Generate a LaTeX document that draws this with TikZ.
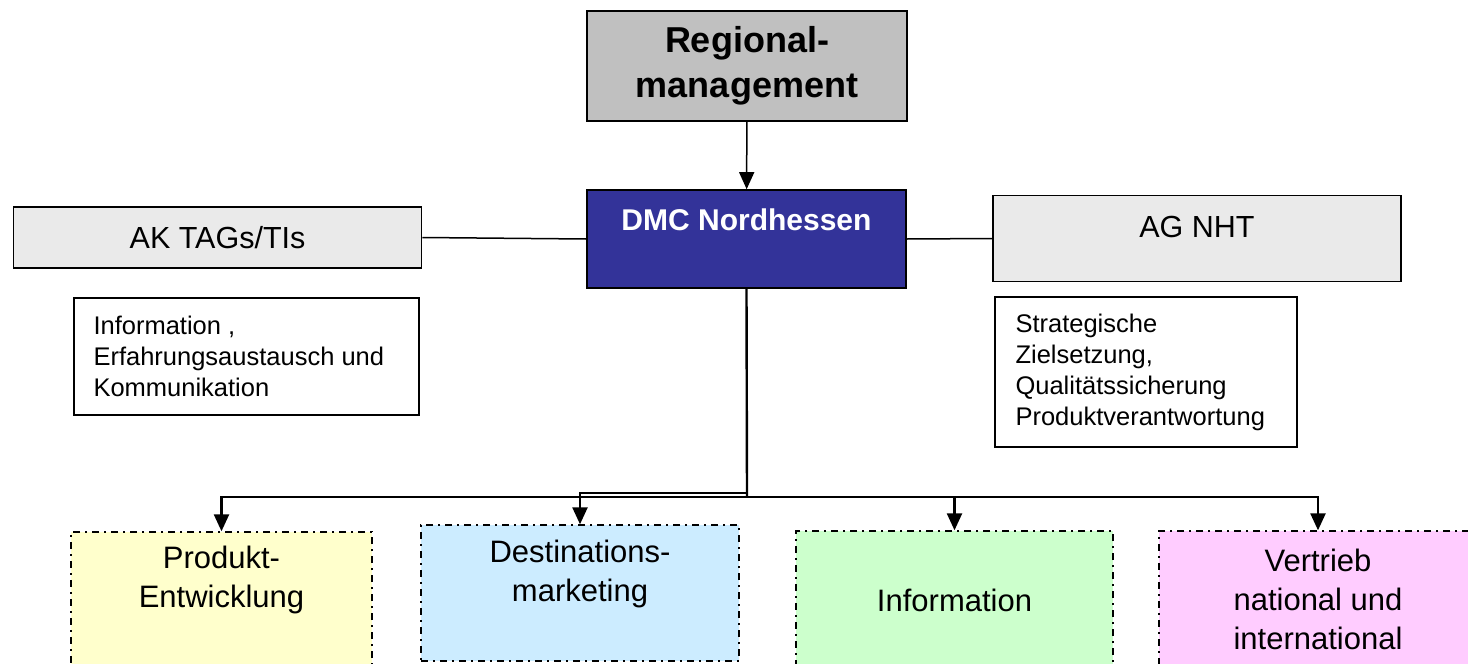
\documentclass[tikz,border=0pt]{standalone}
\usepackage{fontspec}
\setmainfont{Liberation Sans}
\usetikzlibrary{arrows.meta}
\definecolor{rmgray}{HTML}{C0C0C0}
\definecolor{dmcblue}{HTML}{333399}
\definecolor{sidegray}{HTML}{EAEAEA}
\definecolor{prodyellow}{HTML}{FFFFCC}
\definecolor{destblue}{HTML}{CCECFF}
\definecolor{infogreen}{HTML}{CCFFCC}
\definecolor{vertpink}{HTML}{FFCCFF}
\tikzset{
  box/.style={draw, line width=1.6pt, inner sep=0pt},
  unit/.style={draw, line width=1.4pt, inner sep=0pt,
    dash pattern=on 7pt off 5pt on 2pt off 5pt},
  bigtext/.style={font=\fontsize{31}{39}\selectfont, align=center},
  sidetext/.style={font=\fontsize{30.5}{36}\selectfont, align=center},
  smalltext/.style={font=\fontsize{25.5}{31}\selectfont, align=left, anchor=west, inner sep=0pt},
  link/.style={line width=1.5pt},
  tree/.style={line width=2.4pt},
  tip/.style={-{Triangle[width=15pt,length=17pt]}}
}
\begin{document}
\begin{tikzpicture}[x=1pt, y=-1pt]
\useasboundingbox (0,0) rectangle (1468,664);
\clip (0,0) rectangle (1468,664);

% top of the hierarchy
\node[box, fill=rmgray, minimum width=320, minimum height=110,
  font=\fontsize{36}{45}\selectfont\bfseries, align=center] (rm) at (747,66) {Regional-\\management};
\node[box, fill=dmcblue, minimum width=319, minimum height=98] (dmc) at (746.5,239) {};
\node[font=\fontsize{30}{36}\selectfont\bfseries, text=white] (dmctxt) at (746.5,220) {DMC Nordhessen};

% side groups
\node[box, fill=sidegray, minimum width=408, minimum height=61, sidetext] (ak) at (217.5,237.5) {AK TAGs/TIs};
\node[box, fill=sidegray, minimum width=408, minimum height=86] (ag) at (1197,238.5) {};
\node[sidetext] (agtxt) at (1197,227) {AG NHT};

\node[box, line width=1.4pt, fill=white, minimum width=345, minimum height=117] (akinfo) at (246.5,356.5) {};
\node[smalltext] (akinfotxt) at ([xshift=20]akinfo.west) {Information ,\\Erfahrungsaustausch und\\Kommunikation};
\node[box, line width=1.4pt, fill=white, minimum width=302, minimum height=150] (aginfo) at (1146,372) {};
\node[smalltext] (aginfotxt) at ([xshift=21]aginfo.west) {Strategische\\Zielsetzung,\\Qualitätssicherung\\Produktverantwortung};

% units
\node[unit, fill=prodyellow, minimum width=301, minimum height=148] (prod) at (221.5,606) {};
\node[bigtext] (prodtxt) at (221.5,580) {Produkt-\\Entwicklung};
\node[unit, fill=destblue, minimum width=318, minimum height=136] (dest) at (580,593) {};
\node[bigtext] (desttxt) at (580,573.5) {Destinations-\\marketing};
\node[unit, fill=infogreen, minimum width=317, minimum height=149] (info) at (954.5,605.5) {};
\node[bigtext] (infotxt) at (954.5,600) {Information};
\node[unit, fill=vertpink, minimum width=318, minimum height=149] (vert) at (1318,605.5) {};
\node[bigtext] (verttxt) at (1318,599) {Vertrieb\\national und\\international};

% connectors
\draw[link, tip] (rm) -- (dmc);
\draw[link] (ak.east) -- (dmc.west);
\draw[link] (dmc.east) -- (ag.west);

\coordinate (bus) at (747,497);
\coordinate (destjoin) at (747,465);
\coordinate (destbend) at (580,493);
\draw[tree] (dmc.south) -- (bus);
\draw[tree, tip] (bus) -| (prod.north);
\draw[tree, tip] (bus) -| (info.north);
\draw[tree, tip] (bus) -| (vert.north);
\draw[tree, tip] (destjoin) |- (destbend) -- (dest.north);
\end{tikzpicture}
\end{document}
